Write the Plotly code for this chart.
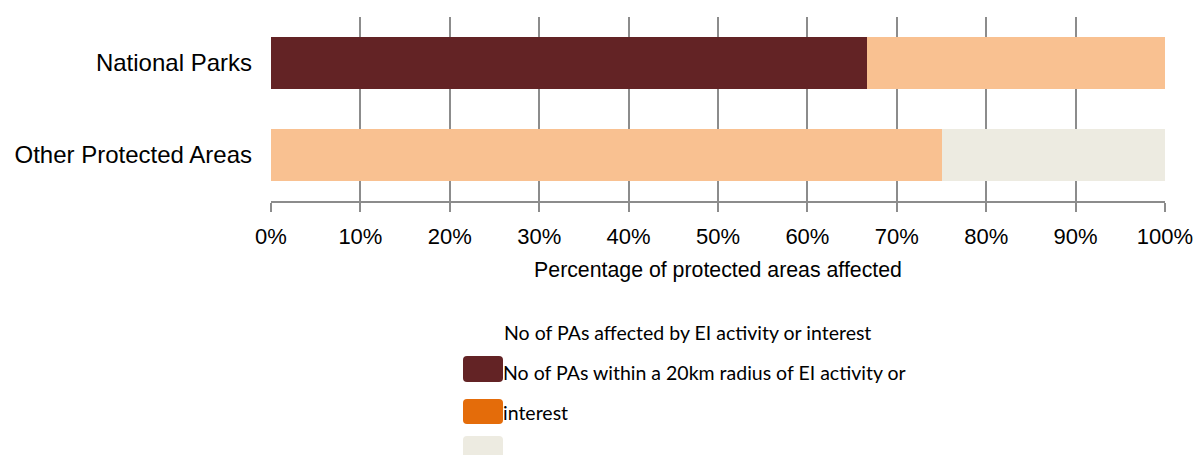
import plotly.graph_objects as go

# Categories and shares (%) for each group of protected areas
categories = ["National Parks", "Other Protected Areas"]
affected = [66.7, 0]          # PAs affected by EI activity or interest
within_20km = [33.3, 75]      # PAs within a 20km radius of EI activity or interest
not_affected = [0, 25]        # remaining PAs
tick_vals = [0, 10, 20, 30, 40, 50, 60, 70, 80, 90, 100]
tick_text = [f"{v}%" for v in tick_vals]

legend_title = "No of PAs affected by EI activity or interest"
legend_line1 = "No of PAs within a 20km radius of EI activity or"
legend_line2 = "interest"

bar_colors = ["#632325", "#F9C191", "#EDEBE1"]
swatch_colors = ["#632325", "#E46C0A", "#EDEBE1"]

fig = go.Figure()
for name, vals, col in [
    ("affected", affected, bar_colors[0]),
    ("within", within_20km, bar_colors[1]),
    ("other", not_affected, bar_colors[2]),
]:
    fig.add_trace(go.Bar(
        y=categories, x=vals, orientation="h", name=name,
        marker=dict(color=col, line=dict(width=0)),
        showlegend=False, hoverinfo="skip",
    ))

grid = "#8C8C8C"
fig.update_layout(
    barmode="stack",
    bargap=0.43,
    width=1199, height=455,
    margin=dict(l=271, r=34, t=17, b=254, autoexpand=False),
    paper_bgcolor="white", plot_bgcolor="white",
    font=dict(family="Liberation Sans, Arial, sans-serif", color="#000000"),
    xaxis=dict(
        range=[0, 100], tickvals=tick_vals, ticktext=tick_text,
        showgrid=True, gridcolor=grid, gridwidth=2,
        showline=True, linecolor=grid, linewidth=2,
        ticks="outside", ticklen=9, tickwidth=2, tickcolor=grid,
        tickfont=dict(size=22), zeroline=False, automargin=False,
        ticklabelstandoff=6,
        title=dict(text="Percentage of protected areas affected",
                   font=dict(size=21.3), standoff=14),
    ),
    yaxis=dict(
        categoryorder="array", categoryarray=categories[::-1],
        showgrid=False, showline=False, ticks="", automargin=False,
        tickfont=dict(size=24), ticklabelstandoff=18,
    ),
)

# Legend block drawn below the chart
legend_font = dict(family="Lato, Noto Sans, sans-serif", size=19.5, color="#000000")
px_w, px_h = 894, 184
def px(x):
    return (x - 271) / px_w
def py(y):
    return (201 - y) / px_h

sw_x0, sw_x1 = 463, 503
sw_rows = [(356, 382), (399, 424), (436, 462)]
r = 4
for (y0, y1), col in zip(sw_rows, swatch_colors):
    # rounded rectangle swatch, in pixel-derived paper coords
    pts = (
        f"M {px(sw_x0 + r)},{py(y0)} L {px(sw_x1 - r)},{py(y0)} "
        f"Q {px(sw_x1)},{py(y0)} {px(sw_x1)},{py(y0 + r)} "
        f"L {px(sw_x1)},{py(y1 - r)} Q {px(sw_x1)},{py(y1)} {px(sw_x1 - r)},{py(y1)} "
        f"L {px(sw_x0 + r)},{py(y1)} Q {px(sw_x0)},{py(y1)} {px(sw_x0)},{py(y1 - r)} "
        f"L {px(sw_x0)},{py(y0 + r)} Q {px(sw_x0)},{py(y0)} {px(sw_x0 + r)},{py(y0)} Z"
    )
    fig.add_shape(
        type="path", xref="paper", yref="paper", path=pts,
        fillcolor=col, line=dict(width=0), layer="below",
    )

for text, x, y in [(legend_title, 502, 332), (legend_line1, 501, 372), (legend_line2, 501, 412)]:
    fig.add_annotation(
        text=text, xref="paper", yref="paper",
        x=px(x), y=py(y),
        xanchor="left", yanchor="middle", showarrow=False,
        font=legend_font,
    )

fig.write_html("out.html")
